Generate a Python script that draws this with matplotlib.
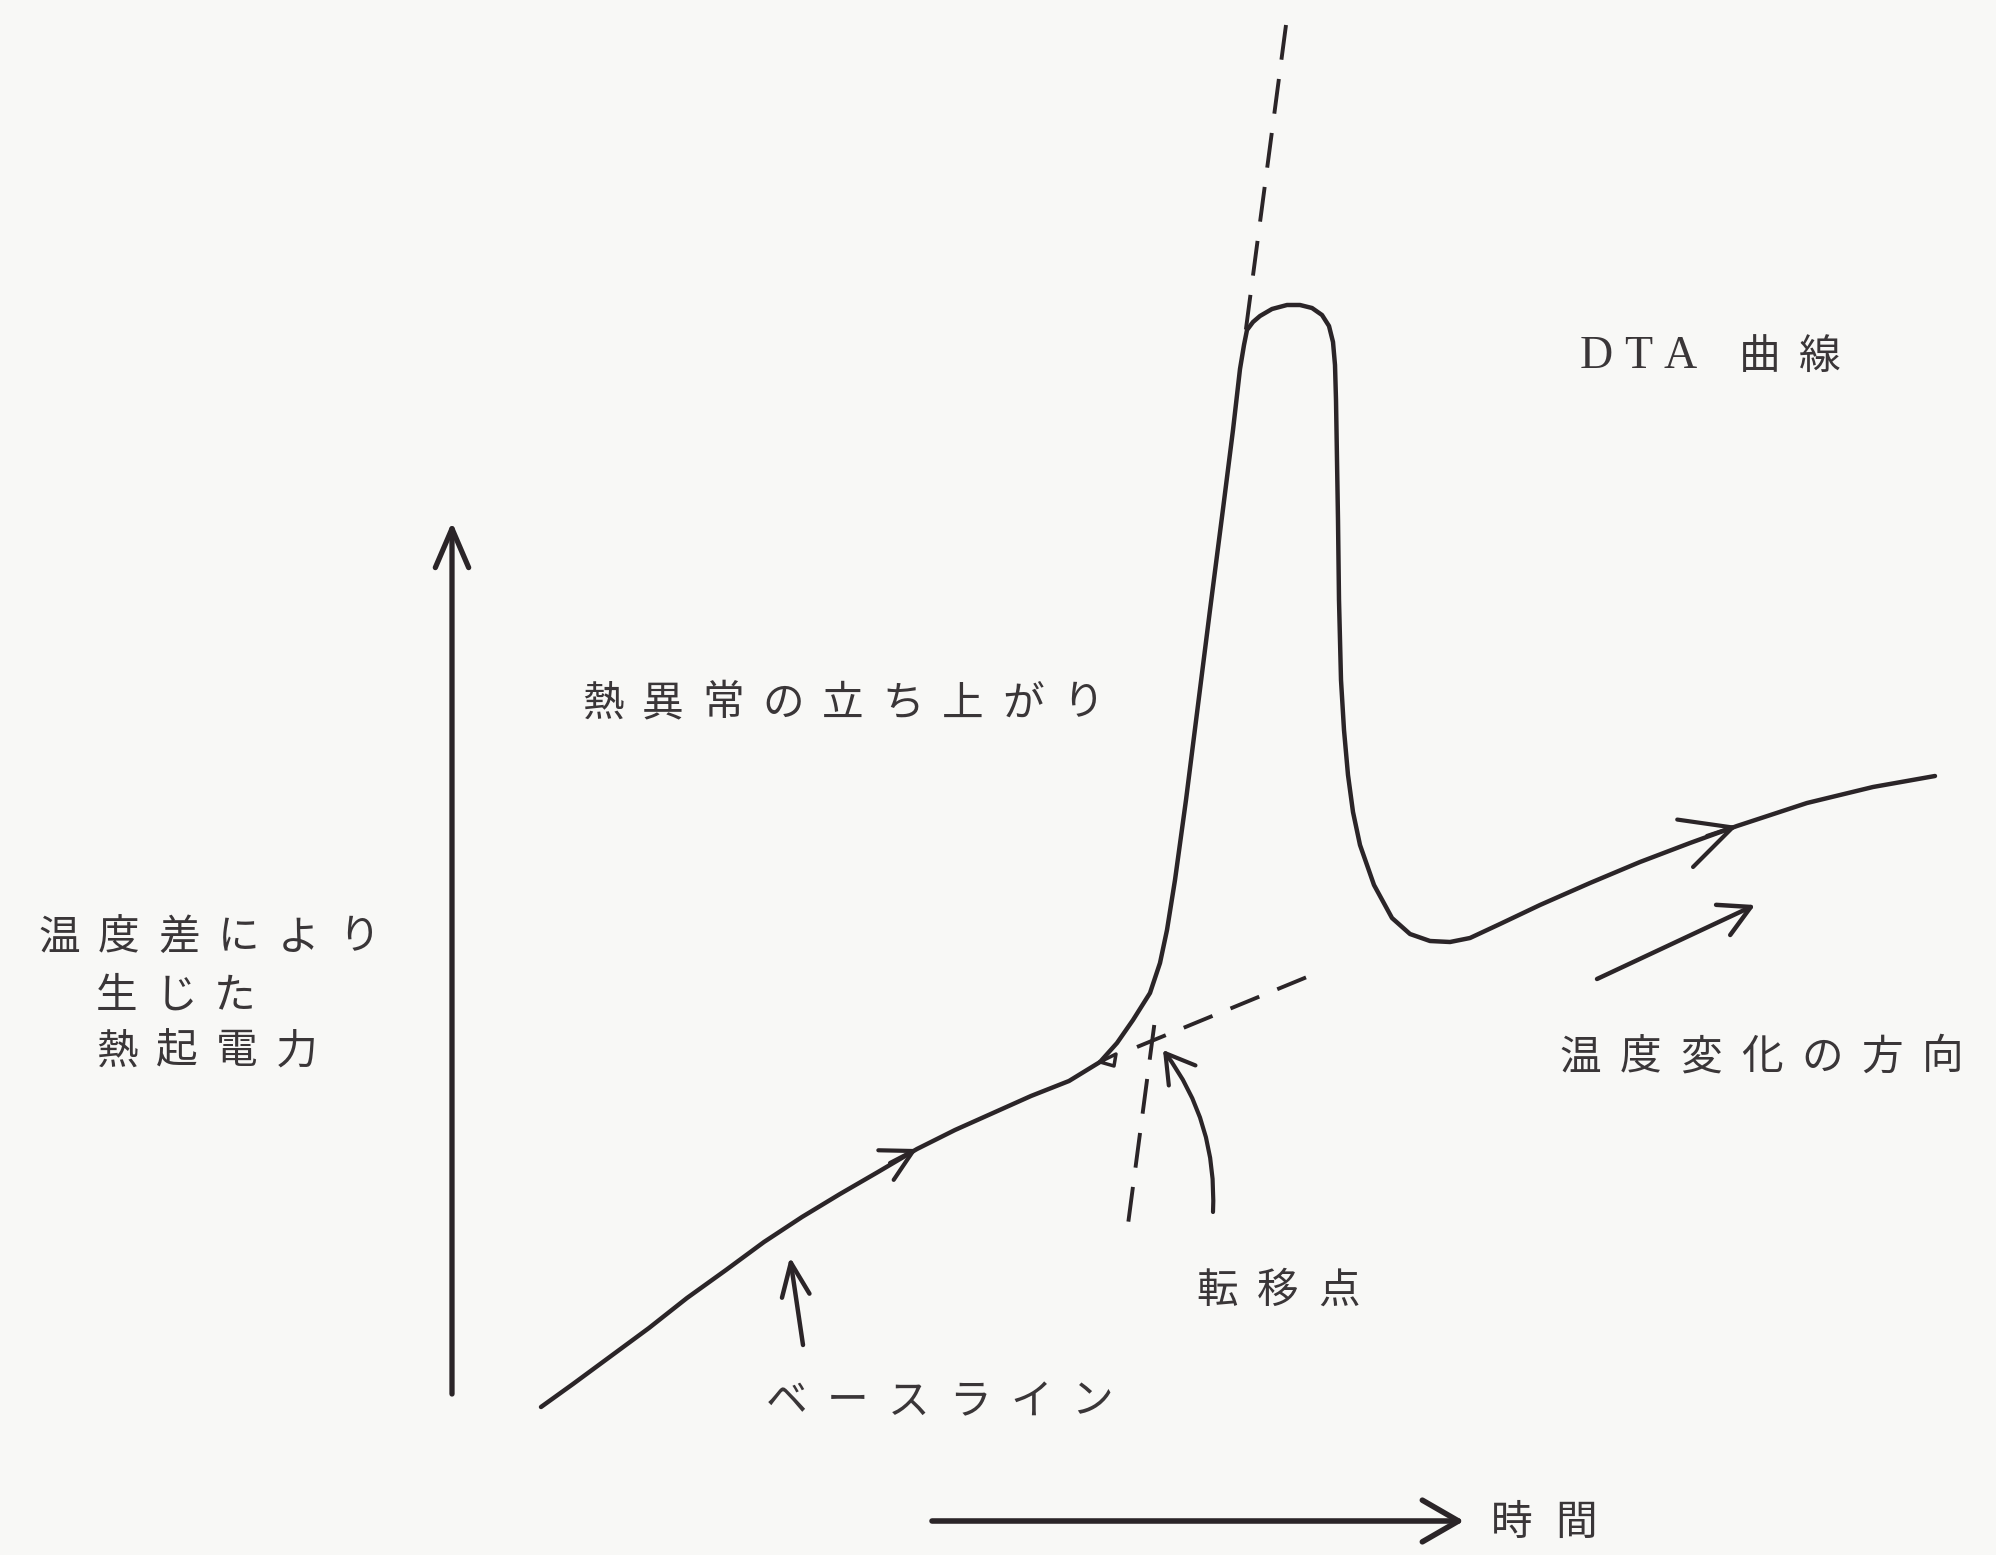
import numpy as np
import matplotlib.pyplot as plt

plt.rcParams['font.family'] = ['Noto Sans CJK JP', 'DejaVu Sans']

# DTA curve, traced in image units (x to the right, y downward)
curve_x = [541, 573, 611, 649, 687, 726, 764, 802, 840, 878, 917, 955, 993,
           1031, 1069, 1100, 1117, 1133, 1150, 1160, 1167, 1175, 1186, 1197,
           1210, 1223, 1233, 1240, 1244, 1247, 1253, 1260, 1272, 1287, 1300,
           1312, 1322, 1329, 1333, 1335, 1336, 1337, 1338, 1339, 1341, 1344,
           1348, 1353, 1360, 1374, 1392, 1410, 1430, 1450, 1470, 1500, 1540,
           1590, 1640, 1690, 1737, 1807, 1873, 1935]
curve_y = [1407, 1384, 1356, 1328, 1298, 1270, 1242, 1217, 1194, 1172, 1149,
           1130, 1113, 1096, 1081, 1062, 1043, 1020, 993, 963, 930, 880, 800,
           713, 610, 509, 430, 369, 345, 330, 322, 316, 309, 305, 305, 308,
           315, 326, 342, 365, 400, 460, 520, 600, 680, 730, 775, 812, 845,
           885, 918, 934, 941, 942, 938, 924, 905, 883, 862, 843, 826, 803,
           787, 776]

# onset tangent: end points, and the stretches of it left visible
onset_x = [1286, 1127]
onset_y = [25, 1232]
onset_spans = [(25, 335), (1025, 1232)]
# baseline extrapolation
base_ext_x = [1137, 1307]
base_ext_y = [1047, 977]

# arrows: (tail, tip)
axis_y_arrow = ((452, 1394), (452, 522))
time_arrow = ((932, 1521), (1464, 1521))
temp_arrow = ((1597, 979), (1755, 905))
base_pointer = ((803, 1345), (790, 1257))
onset_pointer = ((1213, 1212), (1163, 1050))

labels = [
    ("DTA", 1596, 357, 42),
    ("曲線", 1760, 357, 60),
    ("熱異常の立ち上がり", 603, 704, 60),
    ("温度差により", 59, 938, 60),
    ("生じた", 117, 996, 59),
    ("熱起電力", 117, 1052, 60),
    ("温度変化の方向", 1580, 1058, 60.5),
    ("転移点", 1217, 1291, 61),
    ("ベースライン", 787, 1402, 61),
    ("時間", 1512, 1523, 64),
]

ink = '#2b2528'
fig = plt.figure(figsize=(19.96, 15.55), dpi=100, facecolor='#f8f8f6')
ax = fig.add_axes([0, 0, 1, 1])
ax.set_facecolor('#f8f8f6')
ax.set_xlim(0, 1996)
ax.set_ylim(1555, 0)
ax.axis('off')

ax.plot(curve_x, curve_y, color=ink, lw=3.2, solid_capstyle='round',
        solid_joinstyle='round')

# onset line y -> x (onset_y is increasing after reversal)
for y0, y1 in onset_spans:
    ys = np.array([y0, y1])
    xs = np.interp(ys, onset_y, onset_x)
    ax.plot(xs, ys, color=ink, lw=2.8, dashes=(9, 5))
ax.plot(base_ext_x, base_ext_y, color=ink, lw=2.8, dashes=(8, 5))


def arrow(tail, tip, lw=3.4, hl=1.3, hw=0.65, rad=0.0):
    ax.annotate('', xy=tip, xytext=tail,
                arrowprops=dict(arrowstyle=f'->,head_length={hl},head_width={hw}',
                                color=ink, lw=lw, mutation_scale=20,
                                shrinkA=0, shrinkB=0,
                                connectionstyle=f'arc3,rad={rad}'))


arrow(*axis_y_arrow, lw=3.8, hl=1.4, hw=0.6)
arrow(*time_arrow, lw=4.0, hl=1.3, hw=0.75)
arrow(*temp_arrow, lw=3.2, hl=1.1, hw=0.6)
arrow(*base_pointer, lw=3.2, hl=1.2, hw=0.5)
arrow(*onset_pointer, lw=3.0, hl=1.0, hw=0.6, rad=0.18)

# direction marks on the curve itself
arrow((890, 1163), (917, 1149), lw=3.0, hl=1.1, hw=0.6)
arrow((1707, 836), (1737, 826), lw=3.0, hl=1.8, hw=0.9)
ax.plot([1100, 1116, 1114, 1100], [1062, 1054, 1066, 1062], color=ink, lw=2.5)

for text, x0, y, pitch in labels:
    for i, ch in enumerate(text):
        fam = ['Liberation Serif'] if text == "DTA" else None
        ax.text(x0 + i * pitch, y, ch, ha='center', va='center',
                fontsize=33 if text == "DTA" else 30, color='#3a3638',
                family=fam)

fig.savefig('out.png', dpi=100, facecolor=fig.get_facecolor())
